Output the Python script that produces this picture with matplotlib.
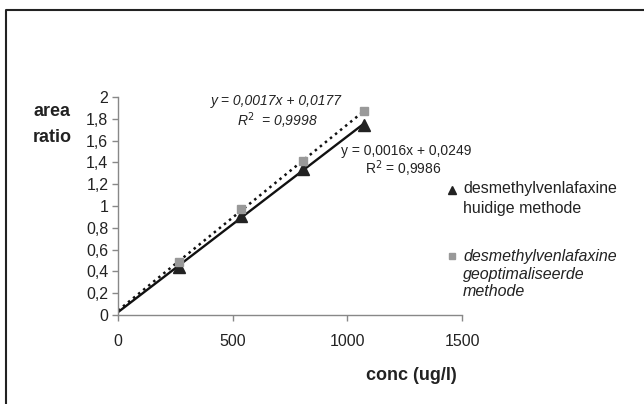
import numpy as np
import matplotlib
matplotlib.use("Agg")
import matplotlib.pyplot as plt
from matplotlib.lines import Line2D

plt.rcParams['font.family'] = ['Liberation Sans', 'DejaVu Sans']

# concentrations (ug/l)
conc = [268, 536, 805, 1073]
# area ratio, huidige methode (triangles)
huidig = [0.44, 0.91, 1.34, 1.74]
# area ratio, geoptimaliseerde methode (squares)
geopt = [0.49, 0.97, 1.41, 1.87]

xticks = [0, 500, 1000, 1500]
yticks = [0, 0.2, 0.4, 0.6, 0.8, 1, 1.2, 1.4, 1.6, 1.8, 2]

fig = plt.figure(figsize=(6.44, 4.04), dpi=100)
ax = fig.add_axes([0.1832, 0.2203, 0.5342, 0.5396])

# trendlines, like excel does them
xs = np.array([0, conc[-1]])
p1 = np.polyfit(conc, huidig, 1)
p2 = np.polyfit(conc, geopt, 1)
ax.plot(xs, np.polyval(p1, xs), color='#111111', lw=1.7, zorder=2)
ax.plot(xs, np.polyval(p2, xs), color='#111111', lw=1.8, ls=(0, (1, 1.6)), zorder=2)

ax.plot(conc, huidig, ls='none', marker='^', ms=8.5, color='#222222', zorder=3)
ax.plot(conc, geopt, ls='none', marker='s', ms=6, color='#999999', zorder=3)

ax.set_xlim(0, 1500)
ax.set_ylim(0, 2)
ax.set_xticks(xticks)
ax.set_yticks(yticks)
ax.set_xticklabels([str(v) for v in xticks])
ax.set_yticklabels([('%g' % v).replace('.', ',') for v in yticks])
for s in ['top', 'right']:
    ax.spines[s].set_visible(False)
for s in ['left', 'bottom']:
    ax.spines[s].set_color('#888888')
    ax.spines[s].set_linewidth(1.0)
ax.tick_params(colors='#888888', labelcolor='#222222', labelsize=11.5, length=4, width=1.0)
ax.tick_params(axis='x', pad=10)
ax.tick_params(axis='y', pad=3)

# equations
fig.text(276 / 644, 1 - 101 / 404, 'y = 0,0017x + 0,0177', style='italic',
         fontsize=10, ha='center', va='center', color='#222222')
fig.text(277 / 644, 1 - 121 / 404, 'R$^{2}$  = 0,9998', style='italic',
         fontsize=10, ha='center', va='center', color='#222222')
fig.text(406 / 644, 1 - 151 / 404, 'y = 0,0016x + 0,0249',
         fontsize=10, ha='center', va='center', color='#222222')
fig.text(403 / 644, 1 - 169 / 404, 'R$^{2}$ = 0,9986',
         fontsize=10, ha='center', va='center', color='#222222')

# axis titles
fig.text(52 / 644, 1 - 112 / 404, 'area', fontsize=13, fontweight='bold',
         ha='center', va='center', color='#222222')
fig.text(52 / 644, 1 - 137 / 404, 'ratio', fontsize=13, fontweight='bold',
         ha='center', va='center', color='#222222')
fig.text(411 / 644, 1 - 376 / 404, 'conc (ug/l)', fontsize=13, fontweight='bold',
         ha='center', va='center', color='#222222')

# legend by hand
fig.lines.append(Line2D([452 / 644], [1 - 190 / 404], transform=fig.transFigure,
                        marker='^', ms=6, color='#222222', ls='none'))
fig.text(463 / 644, 1 - 189 / 404, 'desmethylvenlafaxine', fontsize=11.5,
         ha='left', va='center', color='#222222')
fig.text(463 / 644, 1 - 208 / 404, 'huidige methode', fontsize=11.5,
         ha='left', va='center', color='#222222')
fig.lines.append(Line2D([452 / 644], [1 - 256 / 404], transform=fig.transFigure,
                        marker='s', ms=4.5, color='#999999', ls='none'))
fig.text(463 / 644, 1 - 256 / 404, 'desmethylvenlafaxine', fontsize=11.5, style='italic',
         ha='left', va='center', color='#222222')
fig.text(463 / 644, 1 - 274 / 404, 'geoptimaliseerde', fontsize=11.5, style='italic',
         ha='left', va='center', color='#222222')
fig.text(463 / 644, 1 - 292 / 404, 'methode', fontsize=11.5, style='italic',
         ha='left', va='center', color='#222222')

# outer frame (only top and left visible in the crop)
fig.lines.append(Line2D([6 / 644, 6 / 644, 1.0], [0.0, 1 - 10 / 404, 1 - 10 / 404],
                        transform=fig.transFigure, color='#222222', lw=1.5))

fig.savefig('out.png', dpi=100)
